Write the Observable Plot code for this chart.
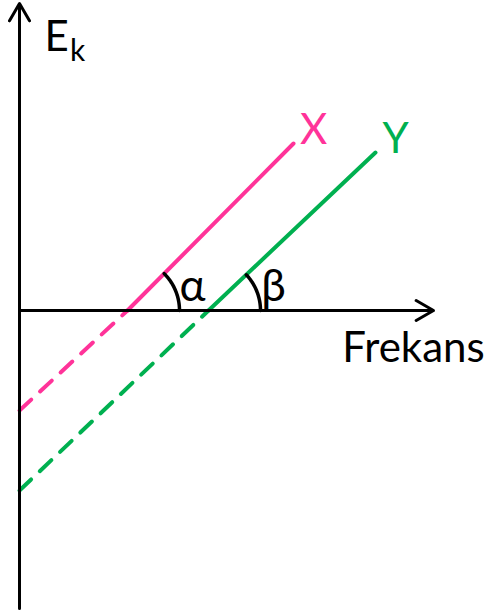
<!DOCTYPE html>
<html>
<head>
<meta charset="utf-8">
<script src="https://cdn.jsdelivr.net/npm/d3@7"></script>
<script src="https://cdn.jsdelivr.net/npm/@observablehq/plot@0.6"></script>
<style>
  html, body { margin: 0; padding: 0; background: #fff; }
  #chart svg { display: block; }
</style>
</head>
<body>
<div id="chart"></div>
<script>
// Kinetic energy vs. frequency for two metals X and Y (photoelectric effect)
const seriesNames = ["X", "Y"];
const seriesColors = ["#ff3399", "#00b050"];
const interceptE = [-10.0, -18.0];   // E_k where the extended line meets the E_k axis
const thresholdF = [10.8, 18.9];     // threshold frequency (line crosses the frequency axis)
const endF = [27.4, 35.6];           // upper end of each line
const endE = [16.7, 15.8];
const angleLabels = ["α", "β"];

// axis extents
const axisEnergy = [-29.8, 30.7];
const axisFreq = [0, 41.4];

const solid = [], dashed = [], arcs = [];
seriesNames.forEach((name, i) => {
  dashed.push({name, f: 0, e: interceptE[i]}, {name, f: thresholdF[i], e: 0});
  solid.push({name, f: thresholdF[i], e: 0}, {name, f: endF[i], e: endE[i]});
  // angle mark between the line and the frequency axis
  const ang = Math.atan2(endE[i], endF[i] - thresholdF[i]);
  const r = 5.2;
  d3.range(0, 25).forEach(k => {
    const t = ang * k / 24;
    arcs.push({name, f: thresholdF[i] + r * Math.cos(t), e: r * Math.sin(t)});
  });
});

const color = {domain: seriesNames, range: seriesColors};
const font = "Lato, 'Open Sans', sans-serif";

const seriesLabels = seriesNames.map((name, i) => ({name, f: endF[i] + 2.0, e: endE[i] + 1.3}));
const angleText = angleLabels.map((t, i) => ({t, f: thresholdF[i] + 6.5, e: 2.4}));

const chart = Plot.plot({
  width: 490,
  height: 613,
  margin: 0,
  x: {domain: axisFreq, range: [19, 433], axis: null},
  y: {domain: [-30, 31], range: [610, 0], axis: null},
  color,
  marks: [
    Plot.line(dashed, {x: "f", y: "e", z: "name", stroke: "name", strokeWidth: 4, strokeDasharray: "16,12"}),
    Plot.line(solid, {x: "f", y: "e", z: "name", stroke: "name", strokeWidth: 4}),
    Plot.line(arcs, {x: "f", y: "e", z: "name", stroke: "#000", strokeWidth: 3.5}),
    Plot.arrow([{}], {x1: axisFreq[0], y1: axisEnergy[0], x2: axisFreq[0], y2: axisEnergy[1], stroke: "#000", strokeWidth: 3, headLength: 10, headAngle: 60}),
    Plot.arrow([{}], {x1: axisFreq[0], y1: 0, x2: axisFreq[1], y2: 0, stroke: "#000", strokeWidth: 3, headLength: 10, headAngle: 60}),
    Plot.text(seriesLabels, {x: "f", y: "e", text: "name", fill: "name", fontSize: 42, fontFamily: font}),
    Plot.text(angleText, {x: "f", y: "e", text: "t", fill: "#000", fontSize: 44, fontFamily: font}),
    Plot.text(["E"], {x: 3.7, y: 27.3, text: d => d, fontSize: 42, fontFamily: font, fill: "#000"}),
    Plot.text(["k"], {x: 5.8, y: 25.9, text: d => d, fontSize: 30, fontFamily: font, fill: "#000"}),
    Plot.text(["Frekans"], {x: 39.4, y: -3.8, text: d => d, fontSize: 42, fontFamily: font, fill: "#000"})
  ]
});
document.getElementById("chart").append(chart);
</script>
</body>
</html>
